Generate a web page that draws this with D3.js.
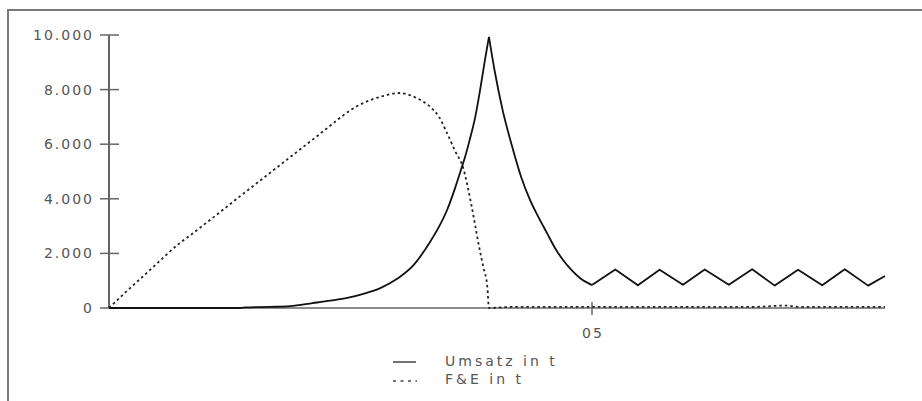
<!DOCTYPE html>
<html>
<head>
<meta charset="utf-8">
<script src="https://cdn.jsdelivr.net/npm/d3@7"></script>
<style>
  html, body { margin: 0; padding: 0; background: #fff; }
  svg { display: block; }
  text { font-family: "DejaVu Sans", sans-serif; fill: #555; }
</style>
</head>
<body>
<svg id="chart" width="922" height="401"></svg>
<script>
// ---- data (time in months from start; "05" tick at month 60) ----
const umsatzT = [0, 16.3, 17, 20, 22.5, 25.3, 27.5, 29.6, 31.6, 33.7, 35.8, 37.8, 39.9, 41, 42, 43, 43.6, 44.2, 44.8, 45.5, 46.1, 46.7, 47.2,
  47.9, 48.9, 50.2, 51.2, 52.3, 53.4, 54.4, 55.4, 56.4, 57.5, 58.5, 60.0,
  62.9, 65.7, 68.4, 71.3, 74.0, 77.0, 79.9, 82.7, 85.6, 88.6, 91.4, 94.3, 96.4];
const umsatzV = [0, 0, 20, 40, 70, 180, 270, 370, 520, 730, 1070, 1560, 2430, 2980, 3590, 4400, 4945, 5500, 6150, 7000, 7985, 9080, 9930,
  8700, 7250, 5790, 4800, 3960, 3300, 2750, 2200, 1760, 1380, 1100, 840,
  1410, 830, 1400, 850, 1410, 850, 1420, 820, 1400, 830, 1420, 820, 1170];

const feT = [0, 2, 4, 6, 8.8, 10, 12, 14, 16, 18, 20, 22, 24, 26, 28, 30, 32, 34, 36, 38, 40, 41, 42, 43, 44, 45, 46, 46.5, 47, 47.2,
  50, 55, 60, 65, 70, 75, 80, 84, 86, 90, 96.4];
const feV = [0, 560, 1100, 1640, 2380, 2640, 3100, 3560, 4030, 4490, 4950, 5410, 5870, 6330, 6800, 7250, 7560, 7760, 7875, 7720, 7340, 7000, 6400, 5750, 5130, 3800, 2210, 1500, 770, 0,
  40, 40, 40, 40, 40, 40, 40, 90, 40, 40, 40];

const yTicks = [0, 2000, 4000, 6000, 8000, 10000];
const xTicks = [60];
const xTickLabels = ["05"];
const seriesNames = ["Umsatz in t", "F&E in t"];

// ---- layout ----
const svg = d3.select("#chart");
const x = d3.scaleLinear().domain([0, 96.4]).range([109, 885]);
const y = d3.scaleLinear().domain([0, 10000]).range([308, 35]);
const de = d3.formatLocale({decimal: ",", thousands: ".", grouping: [3], currency: ["", "€"]});
const fmt = de.format(",.0f");

// frame
svg.append("rect").attr("x", 8).attr("y", 10).attr("width", 940).attr("height", 420)
  .attr("fill", "none").attr("stroke", "#7a7a7a").attr("stroke-width", 2);

// y axis
svg.append("line").attr("x1", 109).attr("x2", 109).attr("y1", y(10000)).attr("y2", y(0))
  .attr("stroke", "#666").attr("stroke-width", 2);
const yt = svg.append("g").selectAll("g").data(yTicks).join("g");
yt.append("line").attr("x1", 100).attr("x2", 119).attr("y1", d => y(d)).attr("y2", d => y(d))
  .attr("stroke", "#666").attr("stroke-width", 1.5);
yt.append("text").attr("x", 94).attr("y", d => y(d) + 5).attr("text-anchor", "end")
  .attr("font-size", 14).attr("letter-spacing", 2).text(d => fmt(d));

// x axis
svg.append("line").attr("x1", x(0)).attr("x2", x(96.4)).attr("y1", y(0)).attr("y2", y(0))
  .attr("stroke", "#666").attr("stroke-width", 1.5);
const xt = svg.append("g").selectAll("g").data(xTicks).join("g");
xt.append("line").attr("x1", d => x(d)).attr("x2", d => x(d)).attr("y1", 302).attr("y2", 315)
  .attr("stroke", "#666").attr("stroke-width", 1.5);
xt.append("text").attr("x", d => x(d) + 1).attr("y", 338).attr("text-anchor", "middle")
  .attr("font-size", 14).attr("letter-spacing", 2).text((d, i) => xTickLabels[i]);

// lines
const smooth = d3.line().x(d => x(d[0])).y(d => y(d[1])).curve(d3.curveMonotoneX);
const straight = d3.line().x(d => x(d[0])).y(d => y(d[1]));
const fePts = feT.map((t, i) => [t, feV[i]]);
svg.append("path").datum(fePts).attr("d", smooth)
  .attr("fill", "none").attr("stroke", "#222").attr("stroke-width", 1.8).attr("stroke-dasharray", "2.5,3");
const uPts = umsatzT.map((t, i) => [t, umsatzV[i]]);
const peakT = umsatzT[umsatzV.indexOf(d3.max(umsatzV))];
const uRise = uPts.filter(d => d[0] <= peakT);
const uFall = uPts.filter(d => d[0] >= peakT && d[0] <= 60);
const uCycle = uPts.filter(d => d[0] >= 60);
svg.append("path").datum(uRise).attr("d", smooth)
  .attr("fill", "none").attr("stroke", "#111").attr("stroke-width", 1.8).attr("stroke-linejoin", "round");
svg.append("path").datum(uFall).attr("d", smooth)
  .attr("fill", "none").attr("stroke", "#111").attr("stroke-width", 1.8).attr("stroke-linejoin", "round");
svg.append("path").datum(uCycle).attr("d", straight)
  .attr("fill", "none").attr("stroke", "#111").attr("stroke-width", 1.8).attr("stroke-linejoin", "round");

// legend
const lg = svg.append("g");
lg.append("line").attr("x1", 393).attr("x2", 416).attr("y1", 362).attr("y2", 362)
  .attr("stroke", "#444").attr("stroke-width", 1.5);
lg.append("line").attr("x1", 393).attr("x2", 417).attr("y1", 381).attr("y2", 381)
  .attr("stroke", "#444").attr("stroke-width", 1.5).attr("stroke-dasharray", "3,4.5");
lg.append("text").attr("x", 445).attr("y", 366).attr("font-size", 14).attr("letter-spacing", 3).text(seriesNames[0]);
lg.append("text").attr("x", 445).attr("y", 384).attr("font-size", 14).attr("letter-spacing", 3).text(seriesNames[1]);
</script>
</body>
</html>
